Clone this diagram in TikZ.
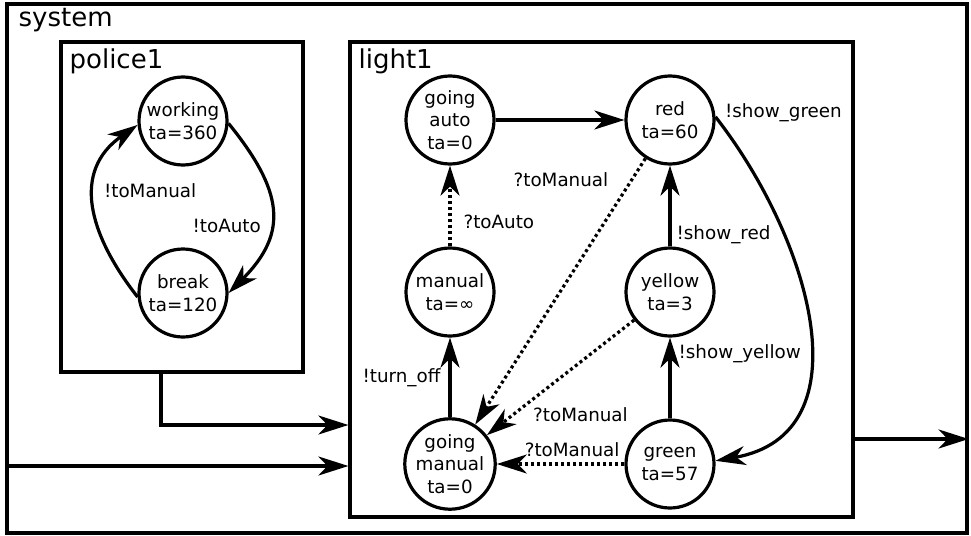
\documentclass[tikz,border=0pt]{standalone}
\usepackage{fontspec}
\setmainfont{DejaVu Sans}
\usepackage{tikz}
\usetikzlibrary{positioning}
\usetikzlibrary{arrows.meta}
\newcommand{\statefont}{\fontsize{18.3}{22.5}\selectfont}
\newcommand{\titlefont}{\fontsize{26}{30}\selectfont}
\tikzset{
    devs diagram/.style={
            x=1pt,y=1pt,node distance=172pt,
            line width=3.2pt,
            atomic/.style={circle,draw,minimum size=88pt,inner sep=0pt,align=center,font=\statefont},
            coupled/.style={rectangle,draw,inner sep=0pt},
            title/.style={anchor=base west,inner sep=0pt,font=\titlefont},
            msg/.style={font=\statefont,inner sep=2pt},
            arrow/.style={-{Stealth[length=30pt,width=19pt,inset=9pt]}},
            external/.style={arrow,dash pattern=on 3pt off 3pt}
        }
    }

\begin{document}
\begin{tikzpicture}[devs diagram]
    \useasboundingbox (0,0) rectangle (971,-535);
    % coupled models
    \node [coupled, minimum width=960pt, minimum height=529pt] (system) at (487,-268.5) {};
    \node [coupled, minimum width=242pt, minimum height=330pt] (police) at (182,-207) {};
    \node [coupled, minimum width=503pt, minimum height=475pt] (light) at (601.5,-279.5) {};
    \node [title] (systemname) at (17,-27) {system};
    \node [title] (policename) at (68,-68) {police1};
    \node [title] (lightname) at (357,-68) {light1};
    % police1
    \node [atomic] (working) at (183,-121) {working\\ta=360};
    \node [atomic] (brk) [below of=working] {break\\ta=120};
    \draw [arrow] (working.-3) to [out=-51, in=45, looseness=1.3] node [msg, pos=0.6, left=6pt] {!toAuto} (brk.0);
    \draw [arrow] (brk.185) to [out=128, in=-145, looseness=1.2] node [msg, pos=0.58, right=6pt] {!toManual} (working.185);
    % light1
    \node [atomic] (goingauto) at (450,-120) {going\\auto\\ta=0};
    \node [atomic] (red) [right of=goingauto, node distance=220pt] {red\\ta=60};
    \node [atomic] (manual) [below of=goingauto] {manual\\ta=∞};
    \node [atomic] (goingmanual) [below of=manual] {going\\manual\\ta=0};
    \node [atomic] (yellow) [below of=red] {yellow\\ta=3};
    \node [atomic] (green) [below of=yellow] {green\\ta=57};
    \draw [arrow] (goingauto) -- (red);
    \draw [external] (manual) -- (goingauto) node [msg, pos=0.3, right=10pt] {?toAuto};
    \draw [arrow] (goingmanual) -- (manual) node [msg, midway, left=6pt] {!turn\_off};
    \draw [external] (red) -- (goingmanual) node [msg, pos=0.08, left=20pt] {?toManual};
    \draw [external] (yellow) -- (goingmanual) node [msg, pos=0.71, anchor=north west, yshift=-2pt] {?toManual};
    \draw [external] (green) -- (goingmanual) node [msg, pos=0.41, above=4pt] {?toManual};
    \draw [arrow] (green) -- (yellow) node [msg, pos=0.8, right=5pt] {!show\_yellow};
    \draw [arrow] (yellow) -- (red) node [msg, pos=0.15, right=3pt] {!show\_red};
    \draw [arrow] (red.4) to [out=-52, in=10, looseness=1.15] node [msg, at start, right=6pt, yshift=4pt] {!show\_green} (green.4);
    % couplings
    \draw [arrow] ([xshift=-21pt]police.south) |- ([yshift=-145.5pt]light.west);
    \draw [arrow] ([yshift=-186.5pt]light.west -| system.west) -- ([yshift=-186.5pt]light.west);
    \draw [arrow] ([yshift=-159.5pt]light.east) -- ([yshift=-159.5pt]light.east -| system.east);
\end{tikzpicture}
\end{document}
